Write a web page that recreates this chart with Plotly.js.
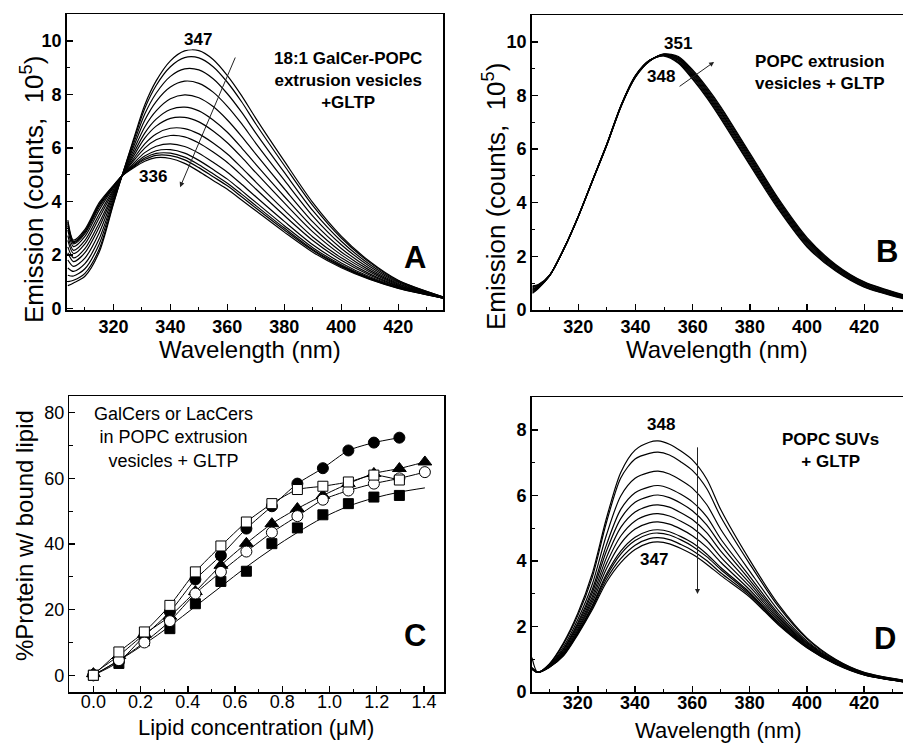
<!DOCTYPE html>
<html><head><meta charset="utf-8">
<script src="https://cdn.plot.ly/plotly-3.0.1.min.js"></script>
<style>html,body{margin:0;padding:0;overflow:hidden;background:#fff}</style>
</head><body><div id="chart" style="width:912px;height:744px"></div>
<script>
// ---------- Panel A: 18:1 GalCer-POPC extrusion vesicles + GLTP ----------
const wavelengthA = [304,306,310,315,320,323,327,331,335,340,345,350,355,360,365,370,380,390,400,410,420,436];
const spectraA = [
  [0.85,0.95,1.20,2.10,3.90,4.95,6.30,7.60,8.50,9.25,9.62,9.63,9.30,8.70,7.95,7.10,5.50,3.95,2.70,1.75,1.05,0.42],
  [1.00,1.05,1.31,2.21,3.94,4.95,6.24,7.47,8.33,9.03,9.37,9.36,9.03,8.45,7.72,6.89,5.34,3.84,2.63,1.71,1.03,0.42],
  [1.24,1.21,1.48,2.40,4.01,4.95,6.13,7.26,8.04,8.67,8.95,8.91,8.58,8.02,7.33,6.55,5.08,3.65,2.51,1.64,1.00,0.41],
  [1.51,1.38,1.67,2.60,4.09,4.95,6.02,7.03,7.73,8.27,8.49,8.41,8.08,7.55,6.90,6.17,4.79,3.45,2.38,1.57,0.97,0.41],
  [1.81,1.57,1.88,2.82,4.17,4.95,5.89,6.78,7.38,7.83,7.98,7.87,7.54,7.04,6.43,5.76,4.47,3.23,2.24,1.49,0.93,0.40],
  [2.08,1.75,2.08,3.03,4.25,4.95,5.78,6.55,7.07,7.43,7.52,7.38,7.04,6.58,6.00,5.38,4.18,3.03,2.11,1.42,0.90,0.40],
  [2.30,1.89,2.23,3.19,4.31,4.95,5.68,6.36,6.81,7.10,7.14,6.97,6.63,6.19,5.65,5.07,3.94,2.86,2.00,1.36,0.87,0.40],
  [2.54,2.05,2.41,3.38,4.38,4.95,5.58,6.15,6.52,6.73,6.72,6.52,6.18,5.77,5.26,4.72,3.67,2.67,1.89,1.29,0.84,0.39],
  [2.72,2.17,2.54,3.52,4.44,4.95,5.50,5.99,6.30,6.46,6.41,6.18,5.84,5.45,4.97,4.46,3.47,2.54,1.80,1.24,0.82,0.39],
  [2.93,2.31,2.69,3.67,4.50,4.95,5.41,5.82,6.06,6.15,6.05,5.80,5.46,5.09,4.64,4.17,3.25,2.38,1.70,1.18,0.80,0.39],
  [3.08,2.41,2.79,3.78,4.54,4.95,5.35,5.69,5.89,5.93,5.80,5.53,5.19,4.83,4.40,3.96,3.09,2.27,1.63,1.14,0.78,0.38],
  [3.17,2.46,2.85,3.85,4.56,4.95,5.31,5.62,5.79,5.80,5.65,5.37,5.03,4.68,4.27,3.84,3.00,2.20,1.59,1.12,0.77,0.38],
  [3.23,2.50,2.90,3.89,4.58,4.95,5.28,5.56,5.72,5.71,5.55,5.26,4.92,4.58,4.17,3.75,2.93,2.16,1.56,1.10,0.76,0.38],
  [3.30,2.55,2.95,3.95,4.60,4.95,5.25,5.50,5.63,5.60,5.42,5.12,4.78,4.45,4.05,3.65,2.85,2.10,1.52,1.08,0.75,0.38]
];

// ---------- Panel B: POPC extrusion vesicles + GLTP ----------
const wavelengthB = [304,306,310,315,320,325,330,335,340,345,350,355,360,365,370,380,390,400,410,420,436];
const spectraB = [
  [0.90,0.95,1.30,2.30,3.50,4.85,6.20,7.65,8.75,9.32,9.47,9.20,8.60,7.90,7.10,5.40,3.75,2.35,1.45,0.85,0.36],
  [0.87,0.93,1.30,2.30,3.50,4.85,6.19,7.64,8.74,9.32,9.48,9.23,8.64,7.95,7.15,5.45,3.80,2.39,1.48,0.87,0.38],
  [0.83,0.91,1.30,2.30,3.50,4.84,6.19,7.64,8.73,9.31,9.49,9.26,8.69,8.00,7.21,5.51,3.85,2.44,1.51,0.90,0.40],
  [0.79,0.89,1.29,2.29,3.49,4.84,6.18,7.63,8.72,9.30,9.50,9.30,8.73,8.05,7.27,5.57,3.90,2.48,1.55,0.93,0.41],
  [0.76,0.88,1.29,2.29,3.49,4.84,6.18,7.63,8.72,9.30,9.51,9.33,8.78,8.10,7.33,5.63,3.95,2.53,1.58,0.95,0.43],
  [0.73,0.86,1.29,2.29,3.49,4.83,6.17,7.62,8.71,9.30,9.52,9.36,8.82,8.15,7.38,5.68,4.00,2.57,1.61,0.97,0.45],
  [0.69,0.84,1.29,2.29,3.49,4.83,6.16,7.61,8.70,9.29,9.53,9.39,8.86,8.20,7.44,5.74,4.05,2.61,1.64,1.00,0.47],
  [0.65,0.82,1.28,2.28,3.48,4.82,6.16,7.61,8.69,9.28,9.54,9.42,8.91,8.25,7.50,5.80,4.10,2.66,1.67,1.03,0.48],
  [0.62,0.80,1.28,2.28,3.48,4.82,6.15,7.60,8.68,9.28,9.55,9.45,8.95,8.30,7.55,5.85,4.15,2.70,1.70,1.05,0.50]
];

// ---------- Panel C: % protein with bound lipid ----------
const lipidConc = [0,0.108,0.216,0.324,0.432,0.54,0.648,0.756,0.864,0.972,1.08,1.188,1.296,1.404];
const filledCircle   = [0,4.1,12.0,19.3,29.2,36.5,44.7,51.5,58.4,63.1,68.5,70.9,72.4];
const filledTriangle = [0.5,6.0,12.5,18.0,25.5,33.5,40.2,46.2,50.8,54.8,58.4,61.5,63.0,65.0];
const filledSquare   = [0,3.6,10.5,14.2,21.8,28.6,31.7,40.1,44.9,48.9,52.3,54.3,54.8];
const filledSquareFit= [0,4.5,9.5,15.0,21.0,27.0,33.0,38.5,43.5,48.0,51.5,54.0,55.8,57.1];
const openCircle     = [0,4.6,10.0,16.5,24.9,31.5,37.7,43.5,48.5,53.5,56.3,58.4,60.0,61.9];
const openSquare     = [0,7.1,13.2,21.3,31.5,39.4,46.7,52.3,56.6,57.6,58.9,61.0,59.5];

// ---------- Panel D: POPC SUVs + GLTP ----------
const wavelengthD = [304,306,310,315,320,325,330,335,340,345,348,352,356,360,365,370,380,390,400,410,420,436];
const spectraD = [
  [1.05,0.60,0.85,1.50,2.40,3.60,5.30,6.70,7.38,7.62,7.66,7.56,7.35,7.08,6.50,5.55,4.03,2.68,1.65,1.00,0.60,0.33],
  [0.74,0.60,0.84,1.46,2.33,3.48,5.17,6.53,7.11,7.28,7.32,7.23,7.02,6.76,6.21,5.33,3.91,2.61,1.62,0.98,0.59,0.32],
  [0.74,0.60,0.82,1.38,2.21,3.27,4.79,5.98,6.52,6.70,6.74,6.65,6.46,6.22,5.72,4.95,3.69,2.49,1.56,0.96,0.58,0.32],
  [0.73,0.60,0.81,1.32,2.11,3.11,4.49,5.57,6.08,6.26,6.30,6.21,6.03,5.80,5.35,4.66,3.53,2.40,1.52,0.93,0.56,0.31],
  [0.72,0.60,0.80,1.29,2.05,3.01,4.30,5.29,5.79,5.97,6.01,5.93,5.76,5.53,5.10,4.48,3.42,2.34,1.49,0.92,0.56,0.30],
  [0.72,0.60,0.79,1.25,1.99,2.90,4.10,5.02,5.49,5.68,5.71,5.64,5.47,5.26,4.86,4.29,3.32,2.28,1.46,0.91,0.55,0.30],
  [0.71,0.60,0.78,1.21,1.93,2.81,3.92,4.76,5.22,5.41,5.44,5.37,5.21,5.01,4.63,4.11,3.22,2.23,1.43,0.89,0.54,0.29],
  [0.71,0.60,0.77,1.18,1.88,2.72,3.76,4.53,4.97,5.16,5.19,5.12,4.97,4.77,4.42,3.95,3.12,2.18,1.41,0.88,0.54,0.29],
  [0.71,0.60,0.76,1.15,1.83,2.63,3.60,4.30,4.72,4.92,4.95,4.89,4.74,4.55,4.21,3.79,3.04,2.13,1.39,0.87,0.53,0.29],
  [0.70,0.60,0.76,1.14,1.81,2.60,3.53,4.21,4.62,4.82,4.85,4.79,4.64,4.45,4.13,3.73,3.00,2.11,1.38,0.86,0.53,0.28],
  [0.70,0.60,0.75,1.12,1.78,2.55,3.44,4.07,4.48,4.68,4.71,4.65,4.50,4.32,4.01,3.63,2.95,2.08,1.36,0.86,0.52,0.28],
  [0.70,0.60,0.75,1.10,1.75,2.50,3.35,3.95,4.35,4.55,4.58,4.52,4.38,4.20,3.90,3.55,2.90,2.05,1.35,0.85,0.52,0.28]
];

// ---------- build ----------
const FONT = 'Liberation Sans, Arial, Helvetica, sans-serif';
const traces = [];
function spectra(xs, set, xa, ya) {
  set.forEach(ys => traces.push({x: xs, y: ys, xaxis: xa, yaxis: ya, type: 'scatter', mode: 'lines',
    line: {color: '#000', width: 1.2, shape: 'spline', smoothing: 0.8}, hoverinfo: 'skip', showlegend: false}));
}
spectra(wavelengthA, spectraA, 'x', 'y');
spectra(wavelengthB, spectraB, 'x2', 'y2');
spectra(wavelengthD, spectraD, 'x4', 'y4');

function series(ys, symbol, fill, size, withLine) {
  traces.push({x: lipidConc.slice(0, ys.length), y: ys, xaxis: 'x3', yaxis: 'y3', type: 'scatter',
    mode: withLine ? 'lines+markers' : 'markers',
    line: {color: '#000', width: 1, shape: 'spline', smoothing: 0.6},
    marker: {symbol: symbol, size: size, color: fill, line: {color: '#000', width: 1}}, showlegend: false});
}
traces.push({x: lipidConc, y: filledSquareFit, xaxis: 'x3', yaxis: 'y3', type: 'scatter', mode: 'lines',
  line: {color: '#000', width: 1, shape: 'spline'}, showlegend: false});
series(filledCircle, 'circle', '#000', 11, true);
series(filledTriangle, 'triangle-up', '#000', 12, true);
series(filledSquare, 'square', '#000', 10, false);
series(openCircle, 'circle', '#fff', 11, true);
series(openSquare, 'square', '#fff', 10, true);

const W = 912, H = 744;
const px = v => v / W, py = v => 1 - v / H;

function axis(domain, range, dtick, minor, anchor, bold, fmt) {
  const a = {domain: domain, range: range, anchor: anchor, showline: true, linecolor: '#000', linewidth: 1.5,
    mirror: true, ticks: 'inside', ticklen: 6, tickwidth: 1.5, tickcolor: '#000', dtick: dtick, tick0: 0,
    minor: {ticks: 'inside', ticklen: 3.5, tickwidth: 1, tickcolor: '#000', dtick: minor, tick0: 0},
    showgrid: false, zeroline: false, fixedrange: true,
    tickfont: {family: FONT, size: 18, color: '#000', weight: bold ? 'bold' : 'normal'}};
  if (fmt) a.tickformat = fmt;
  return a;
}

const layout = {
  width: W, height: H, margin: {l: 0, r: 0, t: 0, b: 0}, paper_bgcolor: '#fff', plot_bgcolor: '#fff',
  showlegend: false,
  xaxis:  axis([px(66.7), px(443)], [303.6, 435.7], 20, 10, 'y', true),
  yaxis:  axis([py(310), py(14)], [-0.06, 11], 2, 1, 'x', true),
  xaxis2: axis([px(531.7), px(910)], [303.7, 436.0], 20, 10, 'y2', true),
  yaxis2: axis([py(310), py(15)], [0, 11], 2, 1, 'x2', true),
  xaxis3: axis([px(69.3), px(444)], [-0.102, 1.485], 0.2, 0.1, 'y3', false, '.1f'),
  yaxis3: axis([py(692), py(396)], [-5.1, 85.1], 20, 10, 'x3', false),
  xaxis4: axis([px(531.7), px(910)], [303.9, 436.0], 20, 10, 'y4', true),
  yaxis4: axis([py(692), py(397)], [0, 9], 2, 1, 'x4', true),
  annotations: []
};
layout.xaxis.tick0 = 320; layout.xaxis2.tick0 = 320; layout.xaxis4.tick0 = 320;
layout.xaxis3.ticklabelstandoff = -7;
layout.xaxis4.ticklabelstandoff = -6;

const ann = layout.annotations;
function txt(xr, yr, x, y, t, size, bold, extra) {
  ann.push(Object.assign({xref: xr, yref: yr, x: x, y: y, text: t, showarrow: false, xanchor: 'center', yanchor: 'middle',
    font: {family: FONT, size: size, color: '#000', weight: bold ? 'bold' : 'normal'}}, extra || {}));
}
function arrow(xr, yr, x0, y0, x1, y1) {
  ann.push({xref: xr, yref: yr, axref: xr, ayref: yr, x: x1, y: y1, ax: x0, ay: y0, text: '', showarrow: true,
    arrowhead: 2, arrowsize: 1, arrowwidth: 1, arrowcolor: '#222'});
}
// axis titles
const ytitle = 'Emission (counts,\u00a0\u00a010<sup>5</sup>)';
txt('paper', 'paper', px(32), py(190), ytitle, 26, false, {textangle: -90});
txt('paper', 'paper', px(250), py(349), 'Wavelength (nm)', 24, false);
txt('paper', 'paper', px(494), py(196), ytitle, 26, false, {textangle: -90});
txt('paper', 'paper', px(716.7), py(349.3), 'Wavelength (nm)', 24, false);
txt('paper', 'paper', px(24), py(536), '%Protein w/ bound lipid', 24, false, {textangle: -90});
txt('paper', 'paper', px(256), py(727), 'Lipid concentration (\u03bcM)', 22, false);
txt('paper', 'paper', px(718.3), py(730), 'Wavelength (nm)', 22, false);

// panel A
txt('x', 'y', 349.7, 10.06, '347', 17, true);
txt('x', 'y', 333.9, 4.94, '336', 17, true);
arrow('x', 'y', 363.0, 9.43, 343.4, 4.53);
txt('x', 'y', 402.2, 8.53, '18:1 GalCer-POPC<br>extrusion vesicles<br>+GLTP', 17, true);
txt('x', 'y', 425.8, 1.92, 'A', 31, true);
// panel B
txt('x2', 'y2', 355.0, 9.94, '351', 17, true);
txt('x2', 'y2', 348.8, 8.72, '348', 17, true);
arrow('x2', 'y2', 354.9, 8.30, 367.5, 9.25);
txt('x2', 'y2', 404.5, 8.85, 'POPC extrusion<br>vesicles + GLTP', 17, true);
txt('x2', 'y2', 427.8, 2.17, 'B', 31, true);
// panel C
txt('x3', 'y3', 0.338, 72.6, 'GalCers or LacCers<br>in POPC extrusion<br>vesicles + GLTP', 18, false);
txt('x3', 'y3', 1.362, 12.2, 'C', 31, true);
// panel D
txt('x4', 'y4', 349.0, 8.17, '348', 17, true);
txt('x4', 'y4', 346.7, 4.04, '347', 17, true);
arrow('x4', 'y4', 361.8, 7.51, 361.8, 2.99);
txt('x4', 'y4', 408.1, 7.37, 'POPC SUVs<br>+ GLTP', 17, true);
txt('x4', 'y4', 427.3, 1.62, 'D', 31, true);

Plotly.newPlot('chart', traces, layout, {displayModeBar: false, staticPlot: true});
</script></body></html>
